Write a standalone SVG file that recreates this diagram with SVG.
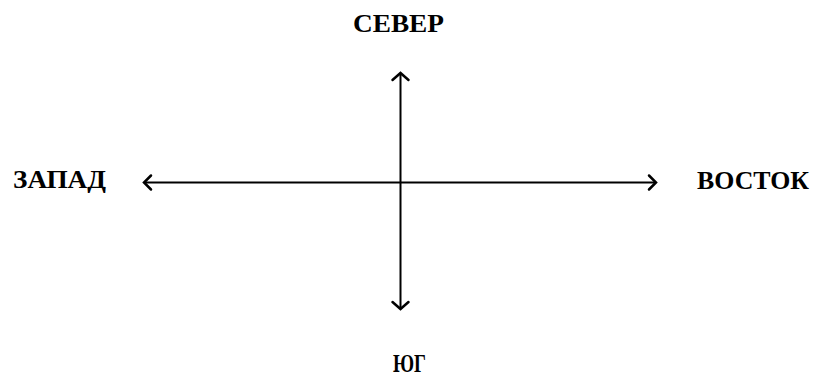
<svg xmlns="http://www.w3.org/2000/svg" width="813" height="379" viewBox="0 0 813 379">
<style>
text{font-family:"Liberation Serif","Times New Roman",serif;font-weight:bold;font-size:25px;fill:#000}
.ax{stroke:#000;stroke-width:2;fill:none}
.hd{stroke:#000;stroke-width:2.5;fill:none;stroke-linecap:round;stroke-linejoin:miter}
</style>
<rect width="813" height="379" fill="#fff"/>
<g id="connectors">
<line class="ax" x1="400.5" y1="73" x2="400.5" y2="309"/>
<line class="ax" x1="144" y1="182.5" x2="656" y2="182.5"/>
<path class="hd" d="M392.5,80 L400.5,73 L408.5,80"/>
<path class="hd" d="M392.5,302 L400.5,309 L408.5,302"/>
<path class="hd" d="M151,175.5 L144,182.5 L151,189.5"/>
<path class="hd" d="M649,175.5 L656,182.5 L649,189.5"/>
</g>
<g id="north"><text x="353" y="32" textLength="91" lengthAdjust="spacingAndGlyphs">СЕВЕР</text></g>
<g id="west"><text x="13" y="188" textLength="93" lengthAdjust="spacingAndGlyphs">ЗАПАД</text></g>
<g id="east"><text x="697" y="189" textLength="112" lengthAdjust="spacingAndGlyphs">ВОСТОК</text></g>
<g id="south"><text x="393" y="372" font-size="23" textLength="33" lengthAdjust="spacingAndGlyphs">ЮГ</text></g>
</svg>
